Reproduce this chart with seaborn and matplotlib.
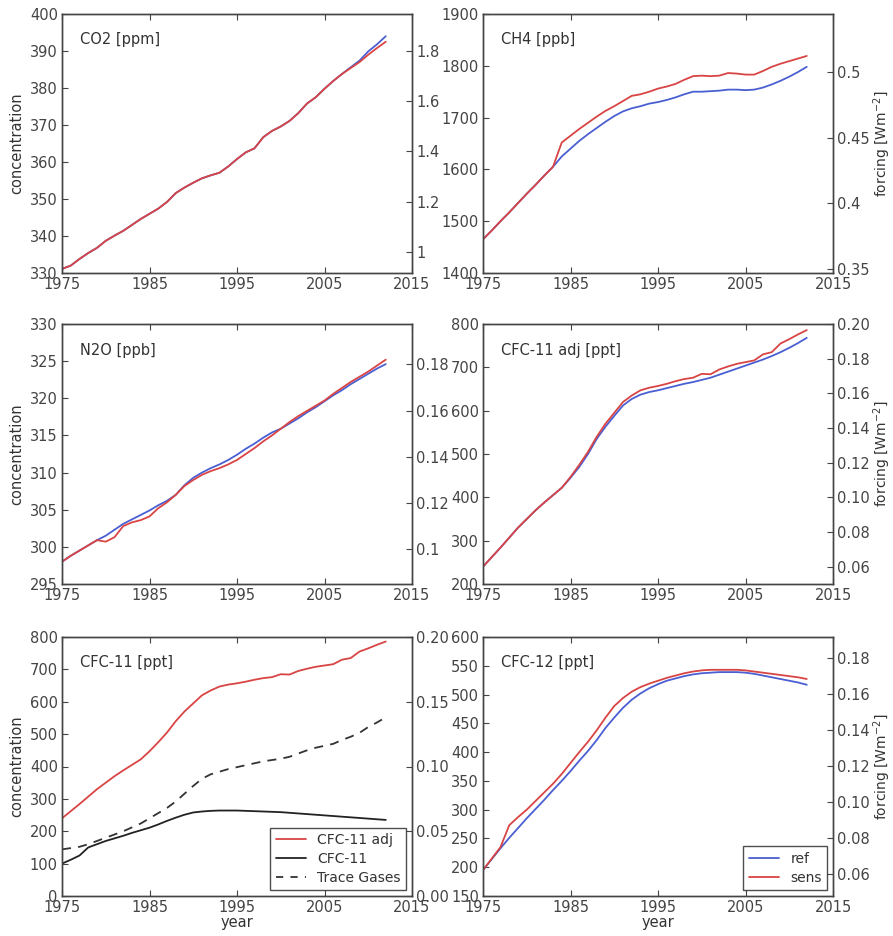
import numpy as np
import pandas as pd
import matplotlib
matplotlib.use("Agg")
import matplotlib.pyplot as plt
from matplotlib.ticker import FuncFormatter, MultipleLocator, FixedLocator
from matplotlib.lines import Line2D
import seaborn as sns

years = list(range(1975, 2013))
xticks = [1975, 1985, 1995, 2005, 2015]

co2_ref = [331.1, 332.0, 333.8, 335.4, 336.8, 338.7, 340.1, 341.4, 343.0, 344.6,
           346.0, 347.4, 349.2, 351.6, 353.1, 354.4, 355.6, 356.4, 357.1, 358.8,
           360.8, 362.6, 363.7, 366.7, 368.4, 369.6, 371.1, 373.2, 375.8, 377.5,
           379.8, 381.9, 383.8, 385.6, 387.4, 389.9, 391.8, 394.0]
co2_sens = [331.1, 332.0, 333.8, 335.4, 336.8, 338.7, 340.1, 341.4, 343.0, 344.6,
            346.0, 347.4, 349.2, 351.6, 353.1, 354.4, 355.6, 356.4, 357.1, 358.8,
            360.8, 362.6, 363.7, 366.7, 368.4, 369.6, 371.1, 373.2, 375.8, 377.5,
            379.8, 381.9, 383.8, 385.4, 387.0, 389.0, 390.8, 392.5]

ch4_ref = [1465, 1482, 1500, 1517, 1535, 1553, 1570, 1588, 1605, 1625,
           1640, 1655, 1668, 1680, 1692, 1703, 1712, 1718, 1722, 1727,
           1730, 1734, 1739, 1745, 1750, 1750, 1751, 1752, 1754, 1754,
           1753, 1754, 1758, 1764, 1771, 1779, 1788, 1798]
ch4_sens = [1465, 1482, 1500, 1517, 1535, 1553, 1570, 1588, 1605, 1652,
            1665, 1678, 1690, 1702, 1713, 1722, 1732, 1742, 1745, 1750,
            1756, 1760, 1765, 1773, 1780, 1781, 1780, 1781, 1786, 1785,
            1783, 1783, 1790, 1798, 1804, 1809, 1814, 1819]

n2o_ref = [298.0, 298.8, 299.5, 300.2, 300.9, 301.5, 302.3, 303.1, 303.7, 304.3,
           304.9, 305.6, 306.2, 307.0, 308.3, 309.3, 310.0, 310.6, 311.1, 311.7,
           312.4, 313.2, 313.9, 314.7, 315.4, 315.9, 316.6, 317.3, 318.1, 318.8,
           319.6, 320.4, 321.1, 321.9, 322.6, 323.3, 324.0, 324.6]
n2o_sens = [298.0, 298.8, 299.5, 300.2, 300.9, 300.7, 301.3, 302.8, 303.3, 303.6,
            304.1, 305.2, 306.0, 307.0, 308.2, 309.0, 309.7, 310.2, 310.6, 311.1,
            311.7, 312.5, 313.3, 314.2, 315.0, 315.9, 316.8, 317.6, 318.3, 319.0,
            319.7, 320.6, 321.4, 322.2, 322.9, 323.6, 324.4, 325.2]

cfc11adj_ref = [240, 262, 284, 307, 330, 350, 370, 388, 405, 422,
                445, 470, 500, 535, 563, 588, 612, 627, 637, 643,
                647, 652, 657, 662, 666, 671, 676, 683, 690, 697,
                704, 711, 718, 726, 735, 745, 756, 768]
cfc11adj_sens = [240, 262, 284, 307, 330, 350, 370, 388, 405, 422,
                 447, 475, 505, 540, 570, 595, 620, 635, 647, 653,
                 657, 662, 668, 673, 676, 685, 684, 695, 702, 708,
                 712, 716, 730, 735, 755, 765, 776, 786]

cfc11 = [100, 112, 125, 150, 160, 170, 178, 186, 195, 203,
         211, 221, 232, 242, 251, 258, 261, 263, 264, 264,
         264, 263, 262, 261, 260, 259, 257, 255, 253, 251,
         249, 247, 245, 243, 241, 239, 237, 235]
trace_forcing = [0.036, 0.037, 0.038, 0.040, 0.0425, 0.045, 0.0475, 0.050, 0.053, 0.056,
                 0.060, 0.064, 0.068, 0.073, 0.079, 0.085, 0.0905, 0.094, 0.096, 0.098,
                 0.0995, 0.101, 0.1025, 0.104, 0.105, 0.106, 0.1075, 0.110, 0.1125, 0.1145,
                 0.116, 0.1175, 0.1205, 0.123, 0.126, 0.1305, 0.134, 0.138]

cfc12_ref = [195, 214, 233, 251, 268, 285, 301, 317, 334, 350,
             367, 385, 402, 421, 442, 460, 477, 491, 502, 511,
             518, 524, 528, 532, 535, 537, 538, 539, 539, 539,
             538, 536, 533, 530, 527, 524, 521, 517]
cfc12_sens = [195, 215, 235, 273, 287, 300, 315, 330, 345, 362,
              381, 400, 418, 438, 460, 480, 494, 505, 513, 519,
              524, 529, 533, 537, 540, 542, 543, 543, 543, 543,
              542, 540, 538, 536, 534, 532, 530, 527]

sns.set_style("white")
plt.rcParams['font.family'] = ['DejaVu Sans']
TXT = '#333333'
plt.rcParams.update({'text.color': TXT, 'axes.labelcolor': TXT,
                     'xtick.color': '#444444', 'ytick.color': '#444444',
                     'axes.edgecolor': '#444444'})

BLUE = '#4a5fd2'
RED = '#d94444'

fig = plt.figure(figsize=(8.93, 9.36), dpi=100)
W, H = 893.0, 936.0
cols = [62, 483]
rows = [(14, 273), (324, 584), (637, 896)]


def make_ax(r, c):
    x0 = cols[c]
    y0, y1 = rows[r]
    ax = fig.add_axes([x0 / W, 1 - y1 / H, 350 / W, (y1 - y0) / H])
    return ax


g = lambda v, p: '%g' % v
f2 = lambda v, p: '%.2f' % v

panels = [
    dict(r=0, c=0, title='CO2 [ppm]', ref=co2_ref, sens=co2_sens, ylim=(330, 400), ystep=10,
         rlim=(0.917, 1.946), rstep=0.2, rfmt=g),
    dict(r=0, c=1, title='CH4 [ppb]', ref=ch4_ref, sens=ch4_sens, ylim=(1400, 1900), ystep=100,
         rlim=(0.347, 0.544), rstep=0.05, rfmt=g),
    dict(r=1, c=0, title='N2O [ppb]', ref=n2o_ref, sens=n2o_sens, ylim=(295, 330), ystep=5,
         rlim=(0.085, 0.1974), rstep=0.02, rfmt=g),
    dict(r=1, c=1, title='CFC-11 adj [ppt]', ref=cfc11adj_ref, sens=cfc11adj_sens, ylim=(200, 800), ystep=100,
         rlim=(0.05, 0.20), rstep=0.02, rfmt=f2),
    dict(r=2, c=0, title='CFC-11 [ppt]', ref=None, sens=cfc11adj_sens, ylim=(0, 800), ystep=100,
         rlim=(0.0, 0.20), rstep=0.05, rfmt=f2),
    dict(r=2, c=1, title='CFC-12 [ppt]', ref=cfc12_ref, sens=cfc12_sens, ylim=(150, 600), ystep=50,
         rlim=(0.048, 0.1918), rstep=0.02, rfmt=f2),
]

for p in panels:
    ax = make_ax(p['r'], p['c'])
    ax2 = ax.twinx()
    if p['ref'] is not None:
        sns.lineplot(x=years, y=p['ref'], ax=ax, color=BLUE, lw=1.3, legend=False)
    sns.lineplot(x=years, y=p['sens'], ax=ax, color=RED, lw=1.3, legend=False)
    if p['r'] == 2 and p['c'] == 0:
        sns.lineplot(x=years, y=cfc11, ax=ax, color='#222222', lw=1.3, legend=False)
        sns.lineplot(x=years, y=trace_forcing, ax=ax2, color='#333333', lw=1.3,
                     linestyle=(0, (5, 4)), legend=False)
        handles = [Line2D([], [], color=RED, lw=1.3),
                   Line2D([], [], color='#222222', lw=1.3),
                   Line2D([], [], color='#333333', lw=1.3, linestyle=(0, (4, 4)))]
        leg = ax2.legend(handles, ['CFC-11 adj', 'CFC-11', 'Trace Gases'], loc='lower right',
                         fontsize=10, frameon=True, fancybox=False, borderaxespad=0.4,
                         handlelength=2.2, borderpad=0.4, labelspacing=0.35)
        leg.get_frame().set_edgecolor('#222222')
        leg.get_frame().set_linewidth(1.0)
    if p['r'] == 2 and p['c'] == 1:
        handles = [Line2D([], [], color=BLUE, lw=1.3), Line2D([], [], color=RED, lw=1.3)]
        leg = ax2.legend(handles, ['ref', 'sens'], loc='lower right', fontsize=10,
                         frameon=True, fancybox=False, borderaxespad=0.4,
                         handlelength=2.2, borderpad=0.4, labelspacing=0.35)
        leg.get_frame().set_edgecolor('#222222')
        leg.get_frame().set_linewidth(1.0)

    ax.set_xlim(1975, 2015)
    ax.xaxis.set_major_locator(FixedLocator(xticks))
    ax.set_ylim(*p['ylim'])
    ax.yaxis.set_major_locator(MultipleLocator(p['ystep']))
    ax2.set_ylim(*p['rlim'])
    ax2.yaxis.set_major_locator(MultipleLocator(p['rstep']))
    ax2.yaxis.set_major_formatter(FuncFormatter(p['rfmt']))
    ax.tick_params(axis='both', direction='in', length=4, width=0.8, labelsize=10.5,
                   top=True, left=True, bottom=True, right=False, pad=3)
    ax2.tick_params(axis='y', direction='in', length=4, width=0.8, labelsize=10.5,
                    right=True, left=False, pad=3)
    for a in (ax, ax2):
        for s in a.spines.values():
            s.set_visible(True)
            s.set_linewidth(1.0)
            s.set_color('#444444')
    ax.set_xlabel('year' if p['r'] == 2 else '', fontsize=10.5, labelpad=0)
    ax.set_ylabel('concentration' if p['c'] == 0 else '', fontsize=10.5, labelpad=4)
    ax2.set_ylabel('forcing [Wm$^{-2}$]' if p['c'] == 1 else '', fontsize=10, labelpad=1)
    ax.text(0.05, 0.9, p['title'], transform=ax.transAxes, fontsize=10.5, va='center', ha='left')

fig.savefig('out.png', dpi=100)
